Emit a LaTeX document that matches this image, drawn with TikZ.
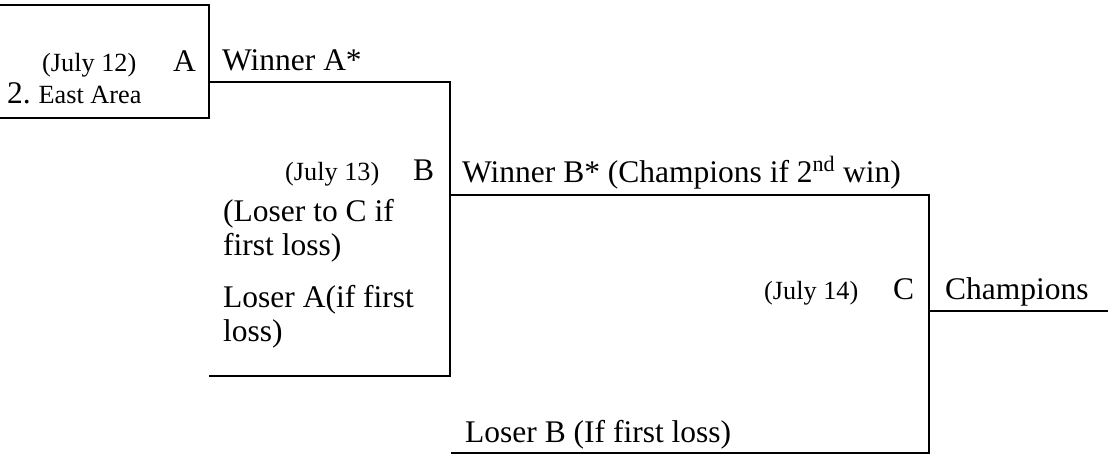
\documentclass[tikz,border=0pt]{standalone}
\usepackage{fontspec}
\usepackage{graphicx}
\setmainfont{Liberation Serif}
\newcommand{\bigtx}[1]{\scalebox{1.2}{\fontsize{26.25}{30}\selectfont #1}}
\begin{document}
\begin{tikzpicture}[x=1pt,y=-1pt,
  big/.style={anchor=base west, inner sep=0pt},
  small/.style={font=\fontsize{26.25}{30}\selectfont, anchor=base west, inner sep=0pt},
  ln/.style={line width=1.3pt, line cap=rect}]
\useasboundingbox (0,0) rectangle (1108,456);
% bracket corner points
\coordinate (atl) at (0,5);
\coordinate (atr) at (209,5);
\coordinate (abr) at (209,118);
\coordinate (abl) at (0,118);
\coordinate (wa) at (209,82);
\coordinate (wab) at (450,82);
\coordinate (bbot) at (450,376);
\coordinate (bbl) at (210,376);
\coordinate (wb) at (450,195);
\coordinate (wbc) at (929,195);
\coordinate (cbot) at (929,453);
\coordinate (lbl) at (452,453);
\coordinate (ch) at (929,311);
\coordinate (chr) at (1108,311);
% lines
\draw[ln] (atl) -- (atr) -- (abr) -- (abl);
\draw[ln] (wa) -- (wab) -- (bbot) -- (bbl);
\draw[ln] (wb) -- (wbc) -- (cbot) -- (lbl);
\draw[ln] (ch) -- (chr);
% game A
\node[small] (da) at (42,71) {(July 12)};
\node[big] (ga) at (173,71) {\bigtx{A}};
\node[big] (ea) at (7,103) {\bigtx{2.\ }\fontsize{26.25}{30}\selectfont East Area};
\node[big] (wat) at (222,70) {\bigtx{Winner A*}};
% game B
\node[small] (db) at (285,180) {(July 13)};
\node[big] (gb) at (413,180) {\bigtx{B}};
\node[big] (lc1) at (223,221) {\bigtx{(Loser to C if}};
\node[big] (lc2) at (223,255) {\bigtx{first loss)}};
\node[big] (la1) at (223,307) {\bigtx{Loser A(if first}};
\node[big] (la2) at (223,341) {\bigtx{loss)}};
\node[big] (wbt) at (462,182) {\bigtx{Winner B* (Champions if 2\textsuperscript{nd} win)}};
% game C
\node[small] (dc) at (764,299) {(July 14)};
\node[big] (gc) at (893,299) {\bigtx{C}};
\node[big] (cht) at (945,299) {\bigtx{Champions}};
\node[big] (lbt) at (465,442) {\bigtx{Loser B (If first loss)}};
\end{tikzpicture}
\end{document}
